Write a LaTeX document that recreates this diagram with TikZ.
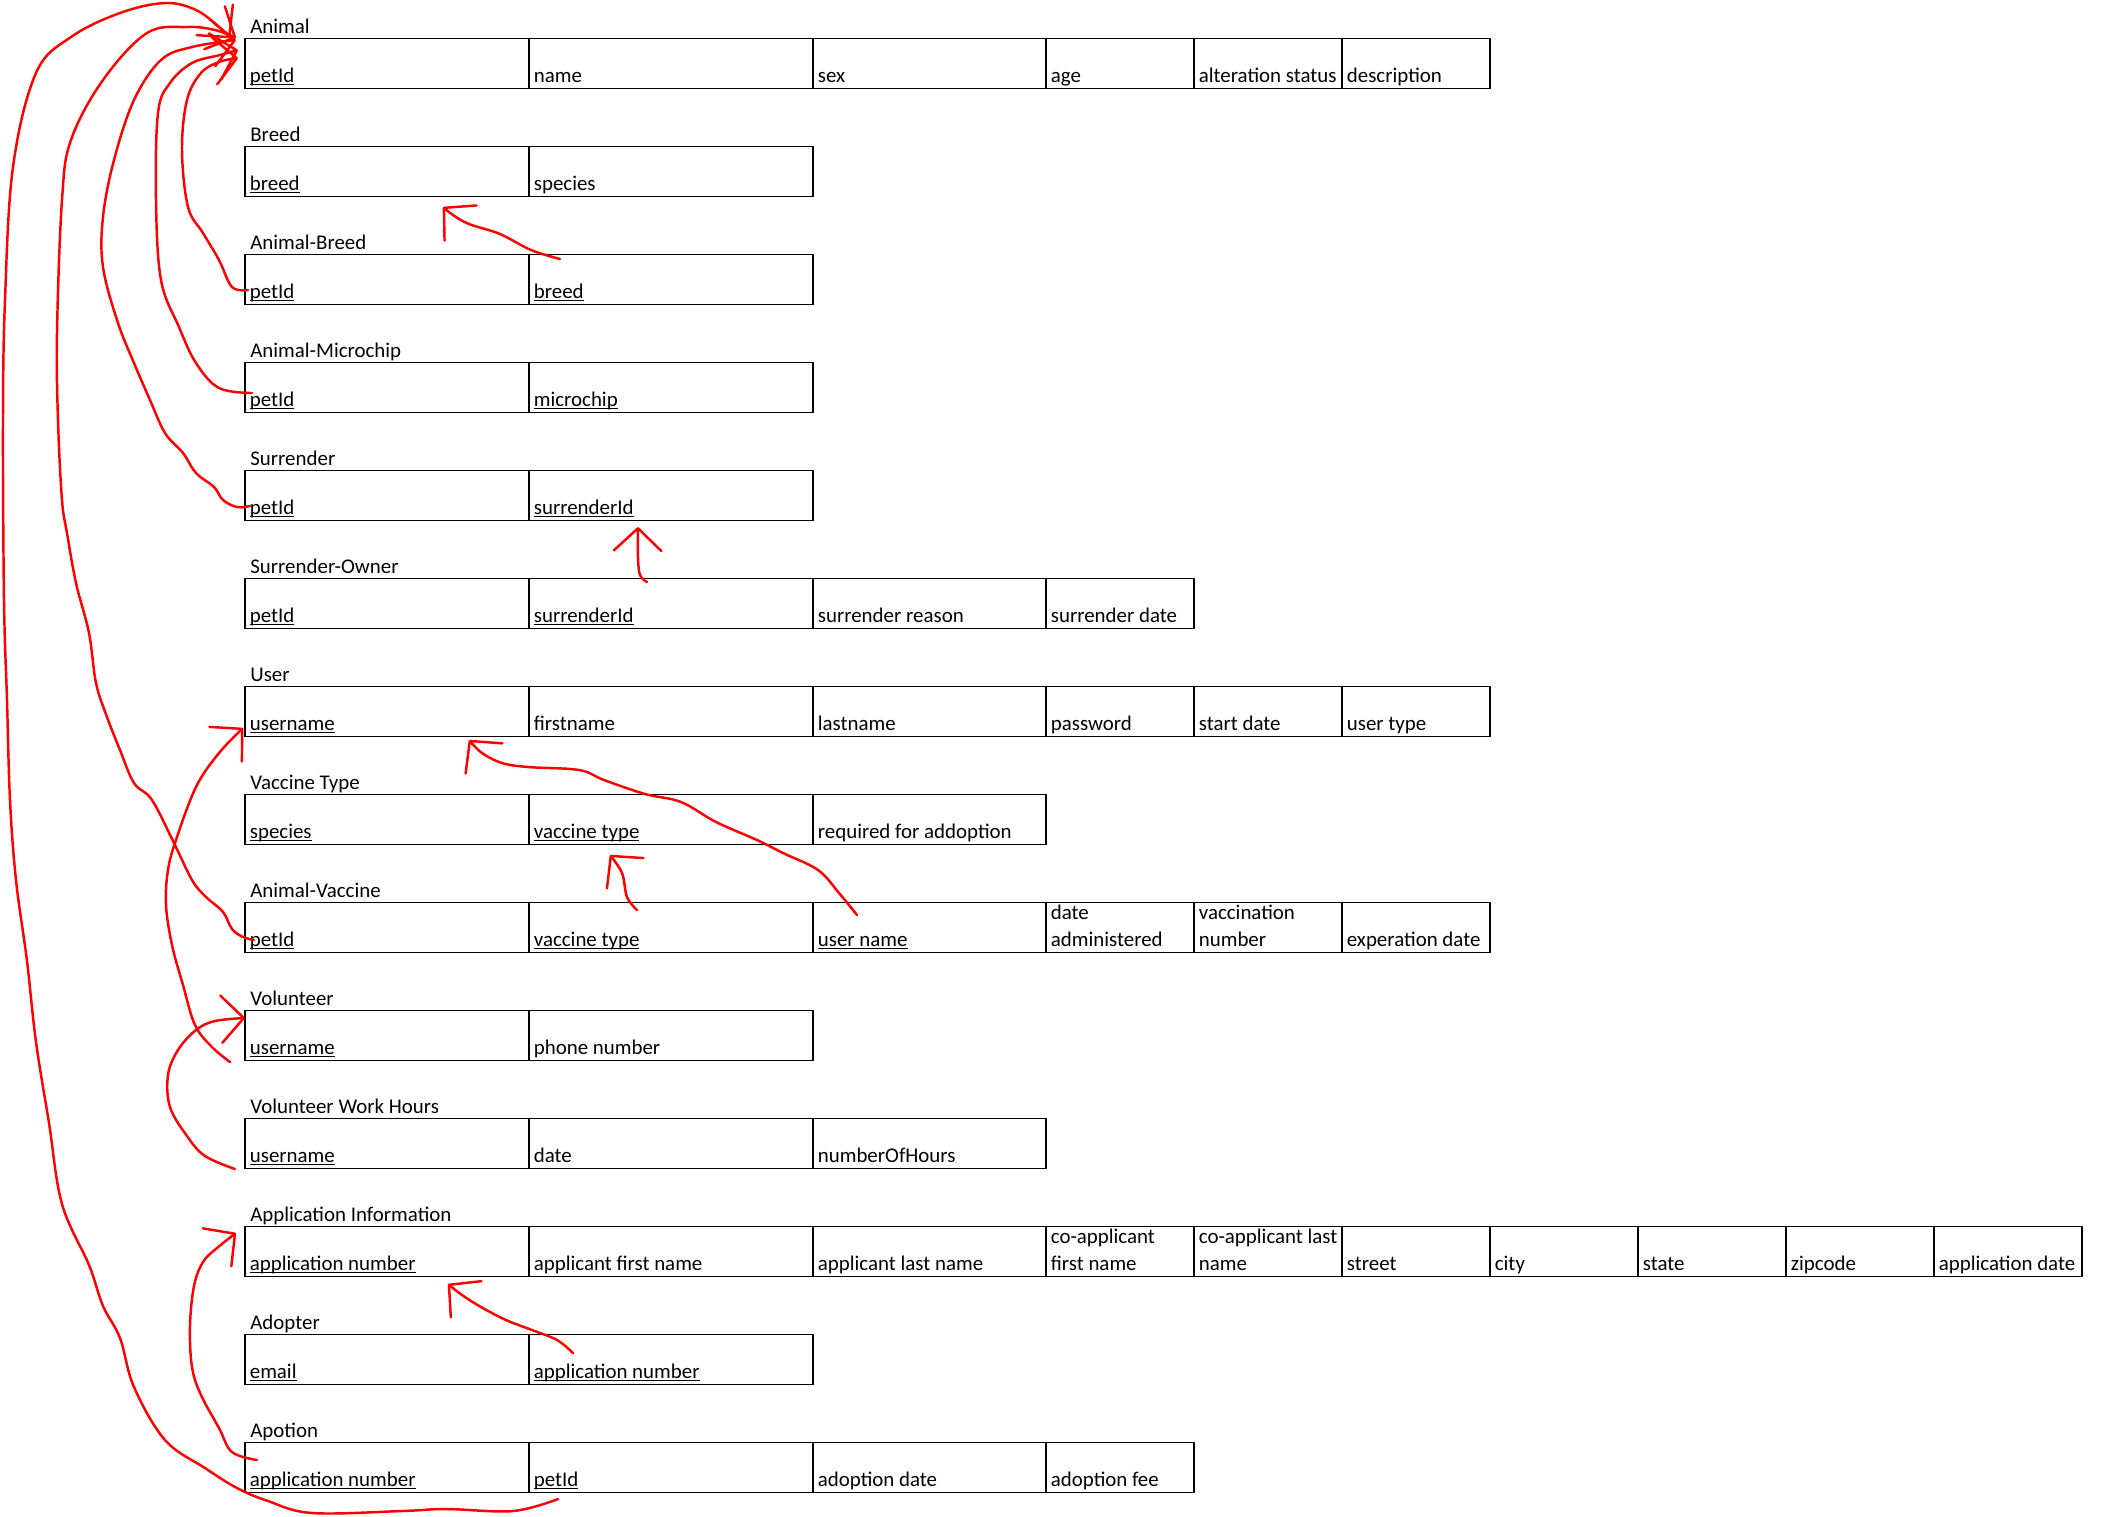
\documentclass[tikz,border=0pt]{standalone}
\usepackage{fontspec}
\setmainfont{Carlito}
\usetikzlibrary{arrows.meta}
\newcommand\ulkey[1]{\setbox0\hbox{#1}\rlap{\rule[-0.06cm]{\wd0}{0.02cm}}\box0}
\newcommand\twoline[2]{\begin{tabular}[b]{@{}l@{}}#1\\#2\end{tabular}}
\def\colx{{245,529,813,1046,1194,1342,1490,1638,1786,1934,2082}}
\begin{document}
\begin{tikzpicture}[x=0.02cm,y=-0.02cm,
    font=\fontsize{11.9}{15.4}\selectfont,
    fld/.style={anchor=base west,inner sep=0pt},
    cellbox/.style={draw=black,line width=0.6pt},
    hand/.style={draw=red,line width=1.4pt,line cap=round,line join=round},
    >={Straight Barb[length=0.45cm,width=0.95cm,round]}]
  \useasboundingbox (0,0) rectangle (2110,1516);
  % tables, one row of cells each
  \foreach \r/\id/\ttl/\cells in {
      0/animal/Animal/{\ulkey{petId},name,sex,age,alteration status,description},
      1/breed/Breed/{\ulkey{breed},species},
      2/abreed/Animal-Breed/{\ulkey{petId},\ulkey{breed}},
      3/amicro/Animal-Microchip/{\ulkey{petId},\ulkey{microchip}},
      4/surr/Surrender/{\ulkey{petId},\ulkey{surrenderId}},
      5/sowner/Surrender-Owner/{\ulkey{petId},\ulkey{surrenderId},surrender reason,surrender date},
      6/user/User/{\ulkey{username},firstname,lastname,password,start date,user type},
      7/vtype/Vaccine Type/{\ulkey{species},\ulkey{vaccine type},required for addoption},
      8/avac/Animal-Vaccine/{\ulkey{petId},\ulkey{vaccine type},\ulkey{user name},\twoline{date}{administered},\twoline{vaccination}{number},experation date},
      9/vol/Volunteer/{\ulkey{username},phone number},
      10/vwh/Volunteer Work Hours/{\ulkey{username},date,numberOfHours},
      11/appinfo/Application Information/{\ulkey{application number},applicant first name,applicant last name,\twoline{co-applicant}{first name},\twoline{co-applicant last}{name},street,city,state,zipcode,application date},
      12/adopter/Adopter/{\ulkey{email},\ulkey{application number}},
      13/apotion/Apotion/{\ulkey{application number},\ulkey{petId},adoption date,adoption fee}}{
    \node[fld] (\id-t) at (250,{33.8+108*\r}) {\ttl};
    \foreach \f [count=\k from 0] in \cells {
      \pgfmathsetmacro\xa{\colx[\k]}
      \pgfmathsetmacro\xb{\colx[\k+1]}
      \draw[cellbox] (\xa,{38.3+108*\r}) rectangle (\xb,{88.3+108*\r});
      \node[fld] (\id-\k) at (\xa+4.5,{82.3+108*\r}) {\f};
    }
  }
  % hand-drawn links between the tables
  \draw[hand,->] plot[smooth,tension=0.6] coordinates {([shift={(26.5,-39.3)}]abreed-1.base west) (531,250) (500,234) (469,224) (453,215) ([shift={(193.5,16.7)}]breed-0.base west)};
  \draw[hand,->] plot[smooth,tension=0.6] coordinates {([shift={(113.5,-40.3)}]sowner-1.base west) (640,575) (638,557) ([shift={(104.5,12.7)}]surr-1.base west)};
  \draw[hand,->] plot[smooth,tension=0.6] coordinates {([shift={(103.5,-36.3)}]avac-1.base west) (627,897) (622,873) ([shift={(76.5,16.7)}]vtype-1.base west)};
  \draw[hand,->] plot[smooth,tension=0.6] coordinates {([shift={(39.5,-31.3)}]avac-2.base west) (839,893) (818,870) (783,853) (757,840) (716,822) (681,802) (645,794) (604,780) (579,770) (528,767) (502,763) (482,753) ([shift={(219.5,9.7)}]user-0.base west)};
  \draw[hand,->] plot[smooth,tension=0.6] coordinates {([shift={(39.5,-25.3)}]adopter-1.base west) (557,1340) (532,1330) (506,1320) (481,1307) (462,1295) ([shift={(198.5,13.7)}]appinfo-0.base west)};
  \draw[hand,->] plot[smooth,tension=0.6] coordinates {([shift={(-14.5,6.7)}]vwh-0.base west) (205,1156) (187,1136) (170,1107) (168,1075) (178,1050) (196,1030) (215,1021) ([shift={(-4.5,-36.3)}]vol-0.base west)};
  \draw[hand,->] plot[smooth,tension=0.6] coordinates {([shift={(-19.5,7.7)}]vol-0.base west) (212,1047) (195,1025) (183,985) (172,945) (166,905) (168,870) (176,840) (196,787) (219,753) ([shift={(-6.5,-2.3)}]user-0.base west)};
  \draw[hand,->] plot[smooth,tension=0.6] coordinates {([shift={(7.5,-26.3)}]apotion-0.base west) (232,1452) (219,1428) (201,1395) (192,1367) (190,1326) (194,1286) (203,1262) (217,1248) ([shift={(-13.5,-37.3)}]appinfo-0.base west)};
  % links into Animal
  \draw[hand,->] plot[smooth,tension=0.6] coordinates {([shift={(-1.5,-8.3)}]abreed-0.base west) (232,287) (219,260) (203,233) (188,207) (182,150) (187,100) (201,73) (219,62) ([shift={(-11.5,-24.3)}]animal-0.base west)};
  \draw[hand,->] plot[smooth,tension=0.6] coordinates {([shift={(2.5,-13.3)}]amicro-0.base west) (219,388) (196,363) (179,327) (161,280) (156,200) (158,113) (170,83) (192,63) (220,55) ([shift={(-11.5,-32.3)}]animal-0.base west)};
  \draw[hand,->] plot[smooth,tension=0.6] coordinates {([shift={(0.5,-8.3)}]surr-0.base west) (237,507) (223,500) (214,487) (196,473) (183,453) (165,433) (150,400) (134,363) (118,323) (103,267) (103,217) (114,160) (134,100) (161,60) (192,47) ([shift={(-13.5,-42.3)}]animal-0.base west)};
  \draw[hand,->] plot[smooth,tension=0.6] coordinates {([shift={(4.5,-6.3)}]avac-0.base west) (243,937) (232,929) (223,912) (205,896) (192,880) (174,843) (152,800) (134,783) (120,750) (107,717) (96,683) (89,633) (76,583) (67,533) (62,500) (58,420) (57,333) (62,200) (71,140) (103,80) (147,33) (187,27) (215,30) ([shift={(-13.5,-44.3)}]animal-0.base west)};
  \draw[hand,->] plot[smooth,tension=0.6] coordinates {([shift={(24.5,12.7)}]apotion-1.base west) (513,1511) (446,1509) (402,1511) (312,1513) (268,1501) (237,1488) (205,1468) (165,1440) (134,1387) (120,1338) (103,1306) (89,1265) (62,1204) (49,1123) (36,1042) (27,961) (16,880) (10,800) (7,700) (4,600) (3,420) (5,300) (13,167) (36,73) (71,37) (120,13) (165,3) (196,10) (219,27) ([shift={(-19.5,-44.3)}]animal-0.base west)};
\end{tikzpicture}
\end{document}
